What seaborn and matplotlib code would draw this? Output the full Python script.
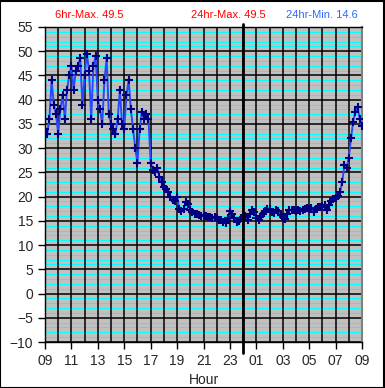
import matplotlib
matplotlib.use("Agg")
import matplotlib.pyplot as plt
import matplotlib.patches as mpatches
from matplotlib.ticker import MultipleLocator
import seaborn as sns

# readings every 10 minutes from 09:00 to 09:00 next day
temps = [34, 33, 36, 44, 39, 37, 33, 38, 41, 36,
         42, 45, 47, 42, 46, 47, 48.5, 39, 45, 49.5,
         46, 36, 47, 49, 40, 38, 35, 44, 48.5, 37,
         35, 34, 33, 36, 42, 35, 34, 41, 44, 38,
         34, 30, 27, 34, 37.5, 36, 37, 36, 27, 25.5,
         25, 26, 24, 23, 22, 21.5, 21, 20, 19.3, 19,
         20, 17.5, 17, 17.5, 18.8, 18.5, 17.3, 16.8, 16.5, 16.5,
         16.2, 16, 16, 16, 15.8, 15.7, 15.6, 15.8, 15.5, 15.2,
         15.2, 14.8, 14.6, 15.5, 17, 16.5, 15.5, 14.8, 15, 15.5,
         15.8, 16, 15.2, 16.5, 17.2, 16.8, 15.5, 15.2, 16, 16.5,
         17, 17.5, 17.5, 16.8, 16.6, 17.2, 17, 16.2, 15.8, 15.3,
         16.5, 17.2, 17.3, 17.2, 17, 17.2, 17, 17.3, 17.5, 17.6,
         17.4, 17.6, 16.8, 17.5, 17.8, 17.8, 18, 18.3, 17.2, 18.2,
         19, 19.6, 19.8, 20.2, 21, 23, 26.5, 26, 28, 32,
         35.5, 37.5, 38.5, 36, 34.5]
hours = [i / 6 for i in range(len(temps))]

tick_hours = list(range(0, 25, 2))
tick_labels = ["09", "11", "13", "15", "17", "19", "21", "23",
               "01", "03", "05", "07", "09"]
midnight = 15

title_left = "6hr-Max. 49.5"
title_mid = "24hr-Max. 49.5"
title_right = "24hr-Min. 14.6"

sns.set_style("white")
plt.rcParams['font.family'] = ['Liberation Sans', 'DejaVu Sans']

fig = plt.figure(figsize=(3.85, 3.88), dpi=100)
ax = fig.add_axes([45 / 385, 46 / 388, 317 / 385, 315 / 388])
ax.set_facecolor('#c0c0c0')

# cyan minor lines first, black grid over them
for v in range(-10, 56):
    if v % 5:
        ax.axhline(v, color='#00ffff', linewidth=0.7, zorder=0.5)
for v in range(-10, 56, 5):
    ax.axhline(v, color='black', linewidth=1.1, zorder=0.6)
for h in range(0, 25):
    ax.axvline(h, color='black', linewidth=1.1, zorder=0.6)

sns.lineplot(x=hours, y=temps, ax=ax, color='#2848ff', linewidth=1.4,
             marker='+', markersize=5.5, markeredgecolor='#000080',
             markeredgewidth=1.5, zorder=3)

ax.plot([midnight, midnight], [-12.3, 55.6], color='black', linewidth=2,
        clip_on=False, zorder=5)

ax.set_xlim(0, 24)
ax.set_ylim(-10, 55)
ax.yaxis.set_major_locator(MultipleLocator(5))
ax.set_xticks(tick_hours)
ax.set_xticklabels(tick_labels)
ax.tick_params(axis='both', which='major', length=5, width=1, color='black',
               labelsize=10, direction='out', left=True, bottom=True)
ax.set_xlabel("Hour", fontsize=10)
ax.set_ylabel("")

for s in ['left', 'bottom', 'top']:
    ax.spines[s].set_color('black')
    ax.spines[s].set_linewidth(1)
ax.spines['right'].set_color('#808080')
ax.spines['right'].set_linewidth(1.5)

fig.text(55 / 385, 1 - 15 / 388, title_left, color='#ff0000', fontsize=8,
         ha='left', va='center')
fig.text(228 / 385, 1 - 15 / 388, title_mid, color='#ff0000', fontsize=8,
         ha='center', va='center')
fig.text(358 / 385, 1 - 15 / 388, title_right, color='#3366ff', fontsize=8,
         ha='right', va='center')

fig.patches.append(mpatches.Rectangle((0.001, 0.001), 0.997, 0.997,
                                      transform=fig.transFigure, fill=False,
                                      edgecolor='black', linewidth=1.5))

fig.savefig("out.png", dpi=100, facecolor='white')
